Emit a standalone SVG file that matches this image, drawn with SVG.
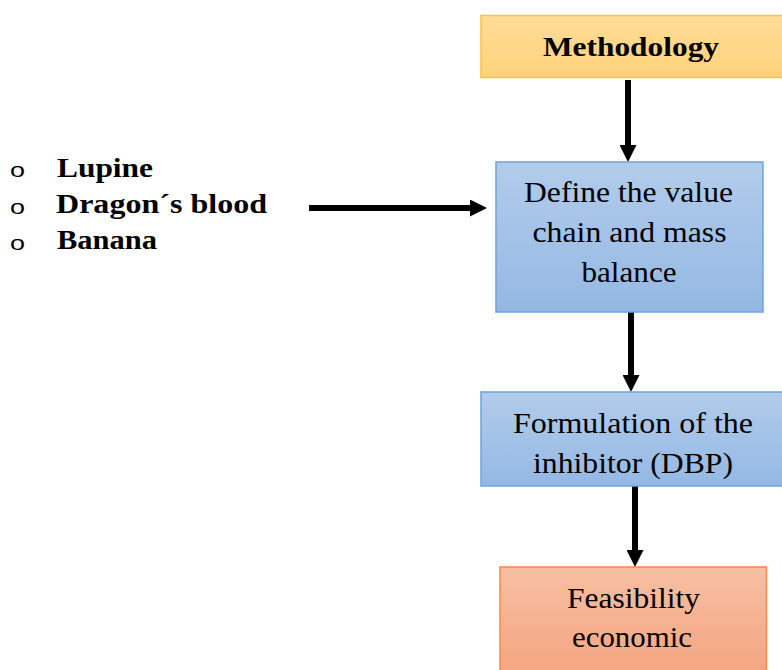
<svg xmlns="http://www.w3.org/2000/svg" width="782" height="670" viewBox="0 0 782 670">
  <style>
    .body { font-size: 29px; text-anchor: middle; }
    .bold { font-weight: bold; }
    .item { font-size: 27px; font-weight: bold; }
    .bullet { font-size: 21px; }
    .conn { stroke: #000; stroke-width: 6; fill: none; marker-end: url(#head); }
  </style>
  <defs>
    <linearGradient id="gOrange" x1="0" y1="0" x2="0" y2="1">
      <stop offset="0" stop-color="#FFDC98"/>
      <stop offset="1" stop-color="#FFD27A"/>
    </linearGradient>
    <linearGradient id="gBlue" x1="0" y1="0" x2="0" y2="1">
      <stop offset="0" stop-color="#B2CCEB"/>
      <stop offset="1" stop-color="#94B8E3"/>
    </linearGradient>
    <linearGradient id="gSalmon" x1="0" y1="0" x2="0" y2="1">
      <stop offset="0" stop-color="#F7BFA3"/>
      <stop offset="1" stop-color="#F4A47F"/>
    </linearGradient>
    <marker id="head" markerUnits="userSpaceOnUse" markerWidth="17" markerHeight="17" viewBox="0 0 17 17" refX="5" refY="8.5" orient="auto">
      <path d="M0,0 L17,8.5 L0,17 Z" fill="#000"/>
    </marker>
  </defs>

  <!-- connectors -->
  <g id="connectors">
    <line class="conn" x1="628" y1="80" x2="628" y2="150"/>
    <line class="conn" x1="631" y1="312" x2="631" y2="380"/>
    <line class="conn" x1="635" y1="486" x2="635" y2="555"/>
    <line class="conn" x1="309" y1="208" x2="475" y2="208"/>
  </g>

  <g font-family="Liberation Serif, serif" fill="#000">
    <g id="methodology">
      <rect x="481" y="15.5" width="310" height="62" fill="url(#gOrange)" stroke="#F7C33A" stroke-width="1.5"/>
      <text class="bold" x="631" y="56" font-size="28" text-anchor="middle" textLength="176" lengthAdjust="spacingAndGlyphs">Methodology</text>
    </g>

    <g id="value-chain">
      <rect x="496" y="162" width="267" height="150" fill="url(#gBlue)" stroke="#6FA2DC" stroke-width="1.5"/>
      <text class="body" x="628.5" y="202" textLength="209" lengthAdjust="spacingAndGlyphs">Define the value</text>
      <text class="body" x="629.5" y="242" textLength="194" lengthAdjust="spacingAndGlyphs">chain and mass</text>
      <text class="body" x="629" y="282" textLength="95" lengthAdjust="spacingAndGlyphs">balance</text>
    </g>

    <g id="formulation">
      <rect x="481" y="392" width="310" height="94" fill="url(#gBlue)" stroke="#6FA2DC" stroke-width="1.5"/>
      <text class="body" x="633" y="433" textLength="240" lengthAdjust="spacingAndGlyphs">Formulation of the</text>
      <text class="body" x="633" y="473" textLength="200" lengthAdjust="spacingAndGlyphs">inhibitor (DBP)</text>
    </g>

    <g id="feasibility">
      <rect x="500" y="567" width="266.5" height="110" fill="url(#gSalmon)" stroke="#EF8A4C" stroke-width="1.5"/>
      <text class="body" x="633.5" y="608" textLength="133" lengthAdjust="spacingAndGlyphs">Feasibility</text>
      <text class="body" x="632" y="647" textLength="120" lengthAdjust="spacingAndGlyphs">economic</text>
    </g>

    <g id="materials">
      <g font-family="Liberation Sans, sans-serif">
        <text class="bullet" x="10" y="177" textLength="15" lengthAdjust="spacingAndGlyphs">o</text>
        <text class="bullet" x="10" y="214" textLength="15" lengthAdjust="spacingAndGlyphs">o</text>
        <text class="bullet" x="10" y="250" textLength="15" lengthAdjust="spacingAndGlyphs">o</text>
      </g>
      <text class="item" x="57" y="176.5" textLength="96" lengthAdjust="spacingAndGlyphs">Lupine</text>
      <text class="item" x="56" y="213" textLength="211" lengthAdjust="spacingAndGlyphs">Dragon´s blood</text>
      <text class="item" x="57" y="249" textLength="100" lengthAdjust="spacingAndGlyphs">Banana</text>
    </g>
  </g>
</svg>
